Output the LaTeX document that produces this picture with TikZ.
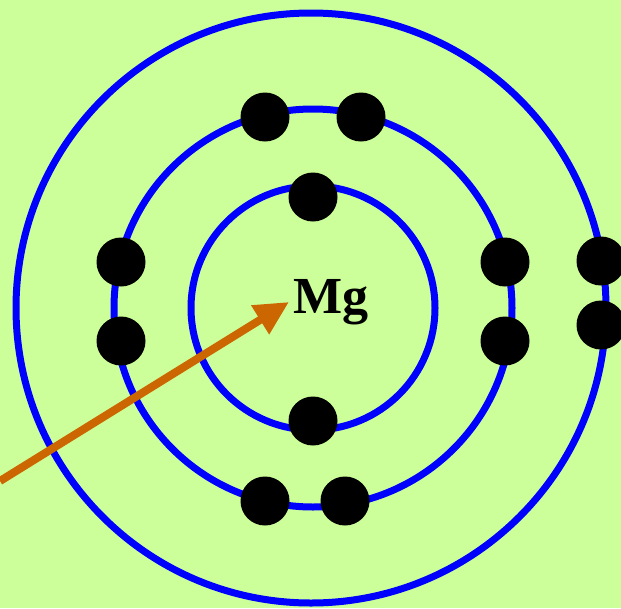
\documentclass[tikz,border=0pt]{standalone}
\usepackage{fontspec}
\setmainfont{Liberation Serif}
\usetikzlibrary{arrows.meta}
\definecolor{bg}{HTML}{CCFF99}
\definecolor{shell}{HTML}{0000FF}
\definecolor{arr}{HTML}{CC6600}
\begin{document}
\begin{tikzpicture}[x=1pt,y=-1pt,
  shellline/.style={draw=shell,line width=7pt},
  electron/.style={circle,fill=black,minimum size=49pt,inner sep=0pt},
  pointer/.style={draw=arr,line width=8pt,-{Triangle[length=34pt,width=32pt]}}]
\fill[bg] (0,0) rectangle (621,608);
\useasboundingbox (0,0) rectangle (621,608);
\coordinate (c) at (313,308);
\draw[shellline] (c) circle[radius=122];
\draw[shellline] (c) circle[radius=199];
\draw[shellline] (311,308) circle[radius=295];
\node[electron] (e1) at (313,197) {};
\node[electron] (e2) at (313,421) {};
\node[electron] (e3) at (265,117) {};
\node[electron] (e4) at (361,117) {};
\node[electron] (e5) at (121,262) {};
\node[electron] (e6) at (121,341) {};
\node[electron] (e7) at (505,262) {};
\node[electron] (e8) at (505,341) {};
\node[electron] (e9) at (265,501) {};
\node[electron] (e10) at (345,501) {};
\node[electron] (e11) at (601,261) {};
\node[electron] (e12) at (601,325) {};
\node[anchor=base west,inner sep=0pt,font=\bfseries\fontsize{52}{60}\selectfont] (mg) at (293,313) {Mg};
\coordinate (start) at (0,481);
\coordinate (tip) at (289,302);
\draw[pointer] (start) -- (tip);
\end{tikzpicture}
\end{document}
